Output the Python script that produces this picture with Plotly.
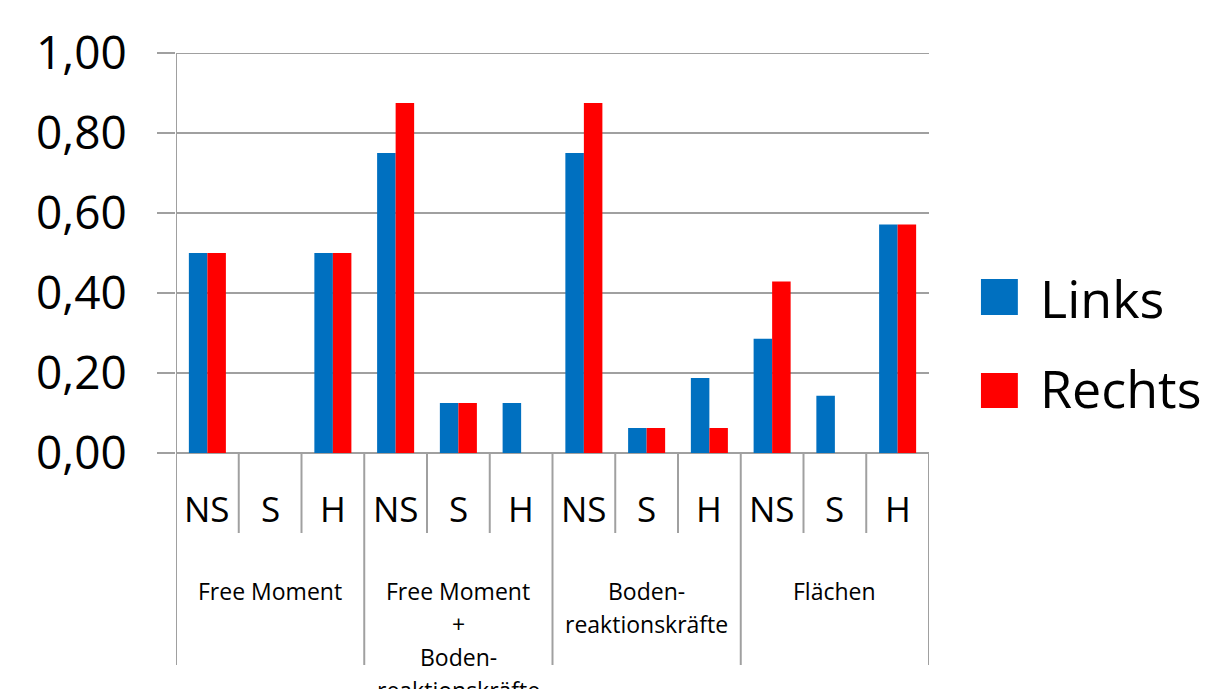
import plotly.graph_objects as go

# Sub-categories (bottom tick row) and their groups
sub_labels = ["NS", "S", "H", "NS", "S", "H", "NS", "S", "H", "NS", "S", "H"]
groups = [
    ["Free Moment"],
    ["Free Moment", "+", "Boden-", "reaktionskräfte"],
    ["Boden-", "reaktionskräfte"],
    ["Flächen"],
]
series_names = ["Links", "Rechts"]
links = [0.50, 0.0, 0.50, 0.75, 0.125, 0.125, 0.75, 0.0625, 0.1875, 0.2857, 0.1429, 0.5714]
rechts = [0.50, 0.0, 0.50, 0.875, 0.125, 0.0, 0.875, 0.0625, 0.0625, 0.4286, 0.0, 0.5714]
colors = ["#0070C0", "#FF0000"]
y_ticks = [0.0, 0.2, 0.4, 0.6, 0.8, 1.0]

FONT = "Open Sans"
GRID = "#A0A0A0"
x_pos = list(range(len(sub_labels)))

fig = go.Figure()
for name, vals, col in zip(series_names, [links, rechts], colors):
    fig.add_trace(go.Bar(x=x_pos, y=vals, name=name, marker=dict(color=col, line=dict(width=0)),
                         showlegend=False))

shapes = []
annotations = []

# top gridline (the axis range ends exactly on it)
shapes.append(dict(type="line", xref="paper", yref="y", x0=0, x1=1, y0=y_ticks[-1], y1=y_ticks[-1],
                   line=dict(color=GRID, width=2), layer="below"))

# category divider lines below the axis
n = len(sub_labels)
for k in range(n + 1):
    long_line = (k % 3 == 0)
    shapes.append(dict(type="line", xref="x", yref="paper", x0=k - 0.5, x1=k - 0.5,
                       y0=0 if k > 0 else 1, y1=-0.53 if long_line else -0.2,
                       line=dict(color=GRID, width=2)))

# sub-category labels
for i, lab in enumerate(sub_labels):
    annotations.append(dict(x=i, y=-0.1375, xref="x", yref="paper", text=lab, showarrow=False,
                            xanchor="center", yanchor="middle",
                            font=dict(family=FONT, size=35, color="black")))

# group labels, one annotation per line
line_step = 0.0825
for g, lines in enumerate(groups):
    cx = g * 3 + 1
    for j, txt in enumerate(lines):
        annotations.append(dict(x=cx, y=-0.345 - j * line_step, xref="x", yref="paper", text=txt,
                                showarrow=False, xanchor="center", yanchor="middle",
                                font=dict(family=FONT, size=23, color="black")))

# legend drawn as squares + labels
leg_y = [(0.435, 0.345, 0.39), (0.2, 0.1125, 0.165)]
for (y0, y1, yc), name, col in zip(leg_y, series_names, colors):
    shapes.append(dict(type="rect", xref="paper", yref="paper", x0=1.069, x1=1.118, y0=y1, y1=y0,
                       fillcolor=col, line=dict(width=0)))
    annotations.append(dict(x=1.1448, y=yc, xref="paper", yref="paper", text=name, showarrow=False,
                            xanchor="left", yanchor="middle",
                            font=dict(family=FONT, size=52, color="black")))

fig.update_layout(
    width=1214, height=689,
    margin=dict(l=176, r=285, t=53, b=236),
    paper_bgcolor="white", plot_bgcolor="white",
    barmode="group", bargap=0.41, bargroupgap=0,
    separators=",.",
    shapes=shapes, annotations=annotations,
    xaxis=dict(range=[-0.5, n - 0.5], showticklabels=False, showgrid=False, zeroline=False,
               showline=False, ticks=""),
    yaxis=dict(range=[0, 1], tickvals=y_ticks, tickformat=".2f", showgrid=True, gridcolor=GRID,
               gridwidth=2, zeroline=True, zerolinecolor=GRID, zerolinewidth=2,
               ticks="outside", ticklen=18, tickcolor=GRID, tickwidth=2,
               ticklabelstandoff=21, showline=False,
               tickfont=dict(family=FONT, size=46, color="black")),
)

fig.write_html("out.html")
